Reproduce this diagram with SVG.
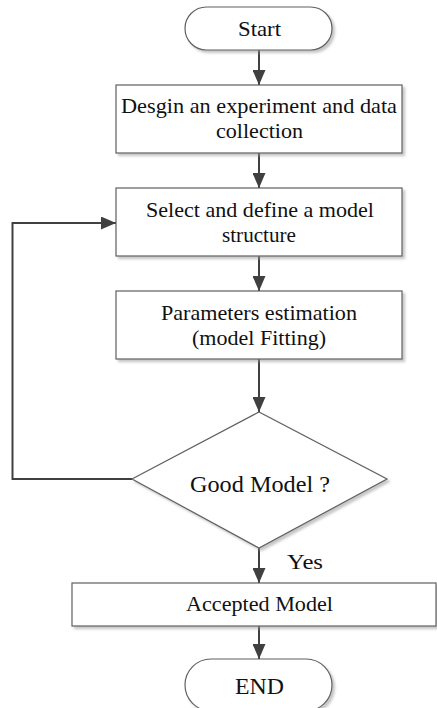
<svg xmlns="http://www.w3.org/2000/svg" width="437" height="708" viewBox="0 0 437 708">
<style>
.node{fill:#fff;stroke:#606060;stroke-width:1.2;filter:url(#sh)}
.t{font-family:"Liberation Serif","Times New Roman",serif;font-size:21.5px;fill:#111;text-anchor:middle}
.big{font-size:23px}
.c{fill:none;stroke:#404040;stroke-width:2}
</style>
<defs>
<filter id="sh" x="-10%" y="-10%" width="130%" height="140%">
<feDropShadow dx="2.5" dy="2.5" stdDeviation="0.8" flood-color="#999" flood-opacity="0.55"/>
</filter>
<marker id="ah" markerUnits="userSpaceOnUse" markerWidth="15" markerHeight="13" refX="15" refY="6.5" orient="auto">
<path d="M0,0 L15,6.5 L0,13 z" fill="#404040"/>
</marker>
</defs>
<g id="connectors">
<line class="c" x1="259" y1="50" x2="259" y2="85" marker-end="url(#ah)"/>
<line class="c" x1="259" y1="153" x2="259" y2="188" marker-end="url(#ah)"/>
<line class="c" x1="259" y1="256" x2="259" y2="291" marker-end="url(#ah)"/>
<line class="c" x1="259" y1="359" x2="259" y2="412" marker-end="url(#ah)"/>
<polyline class="c" points="132,479 12.5,479 12.5,223 116,223" marker-end="url(#ah)"/>
<line class="c" x1="259" y1="548" x2="259" y2="583" marker-end="url(#ah)"/>
<line class="c" x1="259" y1="626" x2="259" y2="659" marker-end="url(#ah)"/>
<text class="t" x="305" y="569" textLength="36" lengthAdjust="spacingAndGlyphs">Yes</text>
</g>
<g id="start">
<rect class="node" x="185" y="7" width="147" height="43" rx="21.5"/>
<text class="t" x="259.5" y="36" textLength="43" lengthAdjust="spacingAndGlyphs">Start</text>
</g>
<g id="design">
<rect class="node" x="116" y="85" width="286" height="68"/>
<text class="t" x="259" y="113" textLength="276" lengthAdjust="spacingAndGlyphs">Desgin an experiment and data</text>
<text class="t" x="259.5" y="138" textLength="87" lengthAdjust="spacingAndGlyphs">collection</text>
</g>
<g id="select">
<rect class="node" x="116" y="188" width="286" height="68"/>
<text class="t" x="260" y="217" textLength="228" lengthAdjust="spacingAndGlyphs">Select and define a model</text>
<text class="t" x="259" y="242" textLength="74" lengthAdjust="spacingAndGlyphs">structure</text>
</g>
<g id="params">
<rect class="node" x="116" y="291" width="286" height="68"/>
<text class="t" x="259" y="320" textLength="196" lengthAdjust="spacingAndGlyphs">Parameters estimation</text>
<text class="t" x="259" y="345" textLength="134" lengthAdjust="spacingAndGlyphs">(model Fitting)</text>
</g>
<g id="decision">
<polygon class="node" points="259,412 387,479 259,548 132,479"/>
<text class="t big" x="260" y="492" textLength="140" lengthAdjust="spacingAndGlyphs">Good Model ?</text>
</g>
<g id="accepted">
<rect class="node" x="72" y="583" width="364" height="43"/>
<text class="t" x="259.5" y="611" textLength="147" lengthAdjust="spacingAndGlyphs">Accepted Model</text>
</g>
<g id="end">
<rect class="node" x="185" y="659" width="147" height="52" rx="26"/>
<text class="t big" x="259.5" y="694" textLength="49" lengthAdjust="spacingAndGlyphs">END</text>
</g>
</svg>
